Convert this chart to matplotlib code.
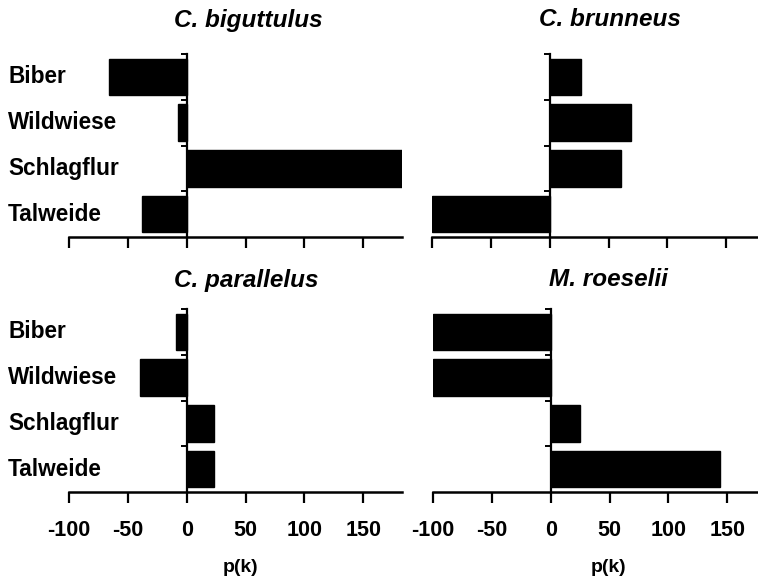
import matplotlib
matplotlib.use("Agg")
import matplotlib.pyplot as plt
import matplotlib.transforms as mtransforms

plt.rcParams['font.family'] = ['Liberation Sans', 'DejaVu Sans']
plt.rcParams['font.weight'] = 'bold'
plt.rcParams['axes.unicode_minus'] = False

# data (top to bottom order of categories)
sites = ["Biber", "Wildwiese", "Schlagflur", "Talweide"]
species = ["C. biguttulus", "C. brunneus", "C. parallelus", "M. roeselii"]
pk_biguttulus = [-66, -7, 183, -38]
pk_brunneus = [27, 69, 61, -100]
pk_parallelus = [-9, -40, 23, 23]
pk_roeselii = [-100, -100, 25, 144]
values = [pk_biguttulus, pk_brunneus, pk_parallelus, pk_roeselii]
xticks = [-100, -50, 0, 50, 100, 150]

W, H = 758, 579
fig = plt.figure(figsize=(W / 100, H / 100), dpi=100)

# axes boxes in pixels: (left, spine_y, top)
boxes = [(69, 237, 54), (432, 237, 54), (69, 492, 309), (433, 492, 309)]
title_xy = [(248, 20), (610, 20), (246, 280), (608, 280)]
xlabel_x = [241, 609]
width_px = 333

for i, (name, vals) in enumerate(zip(species, values)):
    left, bot, top = boxes[i]
    ax = fig.add_axes([left / W, 1 - bot / H, width_px / W, (bot - top) / H])
    n = len(sites)
    ypos = [n - 1 - k for k in range(n)]
    ax.barh(ypos, vals, height=0.8, color='black', edgecolor='black', linewidth=1)
    ax.set_xlim(-100, 183)
    ax.set_ylim(-0.5, n - 0.5)

    for s in ['top', 'right']:
        ax.spines[s].set_visible(False)
    ax.spines['left'].set_position(('data', 0))
    ax.spines['left'].set_linewidth(1.6)
    ax.spines['bottom'].set_linewidth(1.8)
    ax.set_yticks([k + 0.5 for k in range(n)])
    ax.set_yticklabels([])
    ax.tick_params(axis='y', direction='out', length=4, width=1.4)
    ax.set_xticks(xticks)
    ax.tick_params(axis='x', direction='out', length=8, width=1.6, labelsize=15.5, pad=12)
    if i < 2:
        ax.set_xticklabels([])
    else:
        ax.set_xlabel("p(k)", fontsize=14, fontweight='bold')
        lx = (xlabel_x[i - 2] - left) / width_px
        ax.xaxis.set_label_coords(lx, (bot - 567) / (bot - top), transform=ax.transAxes)
        ax.xaxis.label.set_verticalalignment('center')

    if i % 2 == 0:
        trans = mtransforms.blended_transform_factory(fig.transFigure, ax.transData)
        for lab, y in zip(sites, ypos):
            ax.text(8 / W, y, lab, transform=trans, ha='left', va='center',
                    fontsize=16.3, fontweight='bold')

    tx, ty = title_xy[i]
    fig.text(tx / W, 1 - ty / H, name, ha='center', va='center',
             fontsize=17.5, fontweight='bold', style='italic')

fig.savefig("out.png", dpi=100)
